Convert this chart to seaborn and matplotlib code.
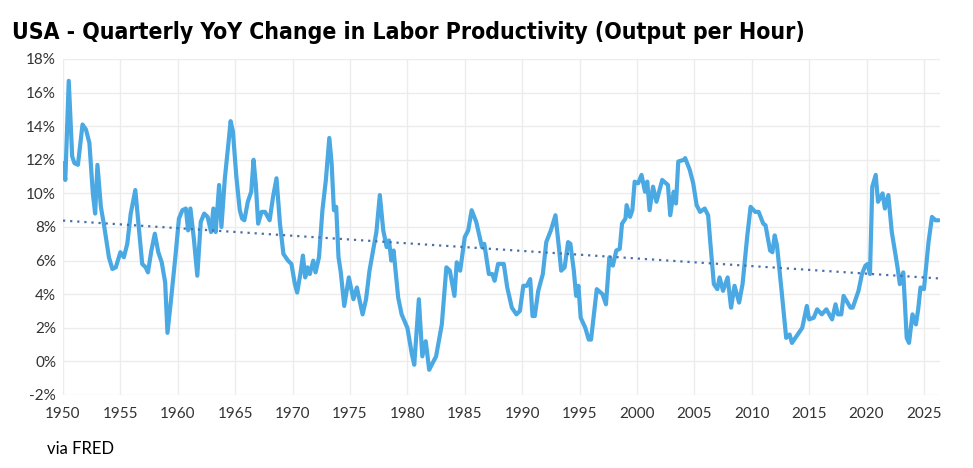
import numpy as np
import pandas as pd
import matplotlib
matplotlib.use("Agg")
import matplotlib.pyplot as plt
import seaborn as sns

years = [1950.0,1950.2,1950.5,1950.8,1951.0,1951.3,1951.7,1952.0,1952.3,1952.6,1952.8,1953.0,1953.3,1953.6,1954.0,1954.3,1954.6,1955.0,1955.3,1955.6,1955.9,1956.3,1956.6,1956.9,1957.2,1957.4,1957.7,1958.0,1958.3,1958.6,1958.9,1959.1,1959.4,1959.8,1960.1,1960.4,1960.7,1960.9,1961.1,1961.4,1961.7,1962.0,1962.3,1962.6,1962.9,1963.1,1963.3,1963.6,1963.8,1964.1,1964.4,1964.6,1964.8,1965.1,1965.4,1965.6,1965.8,1966.1,1966.4,1966.6,1966.8,1967.0,1967.3,1967.6,1968.0,1968.3,1968.6,1968.9,1969.2,1969.6,1969.9,1970.2,1970.4,1970.7,1970.9,1971.1,1971.3,1971.5,1971.8,1972.0,1972.3,1972.6,1972.9,1973.2,1973.4,1973.6,1973.8,1974.0,1974.2,1974.5,1974.9,1975.3,1975.6,1976.1,1976.4,1976.7,1977.3,1977.6,1977.9,1978.2,1978.4,1978.6,1978.8,1979.2,1979.5,1980.0,1980.4,1980.6,1981.0,1981.3,1981.6,1981.9,1982.5,1983.0,1983.4,1983.7,1984.1,1984.3,1984.6,1985.0,1985.3,1985.6,1986.0,1986.5,1986.7,1987.1,1987.4,1987.6,1987.9,1988.4,1988.7,1989.1,1989.5,1989.8,1990.1,1990.4,1990.7,1990.9,1991.1,1991.4,1991.8,1992.1,1992.5,1992.9,1993.2,1993.4,1993.7,1994.0,1994.2,1994.5,1994.7,1994.9,1995.1,1995.5,1995.8,1996.0,1996.5,1997.0,1997.3,1997.6,1997.9,1998.2,1998.5,1998.7,1999.0,1999.1,1999.4,1999.6,1999.8,2000.1,2000.4,2000.7,2000.9,2001.1,2001.4,2001.7,2002.2,2002.7,2002.9,2003.2,2003.4,2003.6,2004.1,2004.2,2004.6,2004.9,2005.2,2005.5,2005.9,2006.2,2006.4,2006.7,2007.0,2007.2,2007.5,2007.9,2008.2,2008.5,2008.9,2009.2,2009.6,2009.9,2010.3,2010.6,2011.0,2011.2,2011.6,2011.8,2012.0,2012.2,2012.6,2013.0,2013.3,2013.5,2013.8,2014.2,2014.4,2014.8,2015.0,2015.4,2015.7,2016.1,2016.5,2017.0,2017.3,2017.5,2017.8,2018.0,2018.6,2018.8,2019.3,2019.6,2019.9,2020.1,2020.3,2020.5,2020.8,2021.0,2021.4,2021.6,2021.9,2022.2,2022.7,2022.9,2023.2,2023.5,2023.7,2024.0,2024.3,2024.5,2024.7,2025.0,2025.4,2025.7,2026.0,2026.3]
values = [11.8,10.8,16.7,12.2,11.8,11.7,14.1,13.8,13.0,10.0,8.8,11.7,9.2,8.0,6.2,5.5,5.6,6.5,6.2,7.0,8.8,10.2,8.0,5.8,5.6,5.3,6.6,7.6,6.5,5.9,4.7,1.7,3.6,6.3,8.5,9.0,9.1,7.8,9.1,7.3,5.1,8.3,8.8,8.6,7.7,9.1,7.7,10.5,8.0,10.9,12.9,14.3,13.7,11.0,9.0,8.5,8.4,9.5,10.1,12.0,10.5,8.2,8.9,8.9,8.4,9.8,10.9,8.2,6.4,6.0,5.8,4.6,4.1,5.3,6.3,5.0,5.6,5.2,6.0,5.3,6.2,9.0,10.8,13.3,11.8,9.0,9.2,6.2,5.3,3.3,5.0,3.7,4.4,2.8,3.7,5.4,7.7,9.9,7.8,6.8,7.2,6.0,6.6,3.8,2.8,2.0,0.4,-0.2,3.7,0.3,1.2,-0.5,0.3,2.2,5.6,5.4,3.9,5.9,5.4,7.4,7.8,9.0,8.3,6.8,7.0,5.2,5.2,4.8,5.8,5.8,4.4,3.2,2.8,3.0,4.5,4.5,4.9,2.7,2.7,4.2,5.2,7.1,7.8,8.7,6.8,5.4,5.6,7.1,7.0,5.4,3.9,4.5,2.6,2.0,1.3,1.3,4.3,4.0,3.4,6.2,5.7,6.6,6.7,8.2,8.5,9.3,8.6,9.0,10.7,10.6,11.1,10.1,10.7,9.0,10.4,9.5,10.8,10.5,8.7,10.1,9.4,11.9,12.0,12.1,11.4,10.6,9.3,8.9,9.1,8.7,7.0,4.6,4.3,5.0,4.2,5.0,3.2,4.5,3.5,4.6,7.4,9.2,8.9,8.9,8.2,8.1,6.6,6.5,7.5,6.9,4.2,1.4,1.6,1.1,1.4,1.8,2.0,3.3,2.5,2.6,3.1,2.8,3.1,2.5,3.4,2.8,2.8,3.9,3.2,3.2,4.2,5.2,5.7,5.8,5.2,10.4,11.1,9.5,10.0,9.1,9.9,7.7,5.6,4.6,5.3,1.4,1.1,2.8,2.2,3.1,4.4,4.3,7.1,8.6,8.4,8.4]
x_ticks = list(range(1950, 2030, 5))
y_ticks = list(range(-2, 20, 2))

df = pd.DataFrame({"year": years, "value": values})
coef = np.polyfit(df["year"], df["value"], 1)
trend = pd.DataFrame({"year": [1950.0, 2026.3]})
trend["value"] = np.polyval(coef, trend["year"])

sns.set_theme(style="white")
plt.rcParams['font.family'] = ['Lato', 'DejaVu Sans']
fig = plt.figure(figsize=(9.73, 4.68), dpi=100)
ax = fig.add_axes([63/973, 1-395/468, (940-63)/973, (395-59)/468])
ax.grid(True, color="#ececec", linewidth=1)
ax.set_axisbelow(True)
sns.lineplot(data=df, x="year", y="value", ax=ax, color="#4aa8e3", linewidth=3)
sns.lineplot(data=trend, x="year", y="value", ax=ax, color="#4a6fa8", linewidth=1.6, linestyle=(0, (1, 2.2)))
ax.set_xlim(1950, 2026.4)
ax.set_ylim(-2, 18)
ax.set_xticks(x_ticks)
ax.set_yticks(y_ticks)
ax.set_yticklabels([f"{t}%" for t in y_ticks])
ax.tick_params(labelsize=11, colors="#333333", length=0)
ax.tick_params(axis="x", pad=9)
ax.tick_params(axis="y", pad=5)
for s in ax.spines.values():
    s.set_visible(False)
ax.set_xlabel("")
ax.set_ylabel("")
fig.text(12/973, 1-33/468, "USA - Quarterly YoY Change in Labor Productivity (Output per Hour)",
         fontsize=16.5, fontweight="bold", family="DejaVu Sans", fontstretch="condensed",
         va="center", color="black")
fig.text(47/973, 1-449/468, "via FRED", fontsize=12, va="center", color="black")
fig.savefig("out.png", dpi=100)
